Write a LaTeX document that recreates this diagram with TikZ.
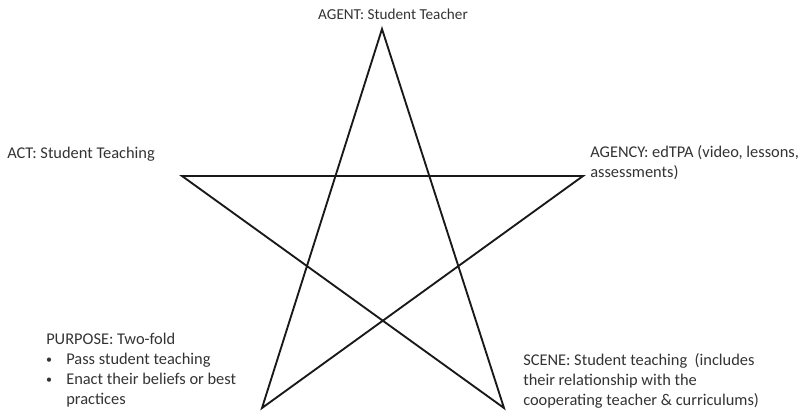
\documentclass[tikz,border=0pt]{standalone}
\usepackage{fontspec}
\setmainfont{Carlito}
\usepackage{tikz}
\usetikzlibrary{positioning}
\usetikzlibrary{calc}
\tikzset{mylabel/.style={inner sep=0pt, align=left, text=black!80, font=\fontsize{12.3}{15}\selectfont}}
\tikzset{mybullet/.style={inner sep=0pt, text=black!80, font=\fontsize{9}{15}\selectfont}}
\tikzset{mystar/.style={draw=black!90, line width=1.4pt, line join=miter}}

\begin{document}
\begin{tikzpicture}[x=0.75pt, y=-0.75pt]

\useasboundingbox (0,0) rectangle (799,412);

\coordinate (top) at (382, 29);
\coordinate (left) at (182, 176);
\coordinate (right) at (583, 176);
\coordinate (botl) at (262, 408);
\coordinate (botr) at (504, 408);

\draw[mystar] (top) -- (botl) -- (right) -- (left) -- (botr) -- cycle;

\node[mylabel, font=\fontsize{11.4}{15}\selectfont] (agent) at (393, 14) {AGENT: Student Teacher};
\node[mylabel, anchor=west] (act) at (7, 154) {ACT: Student Teaching};
\node[mylabel, anchor=north west] (agency) at (590, 145) {AGENCY: edTPA (video, lessons,\\assessments)};

\node[mylabel, anchor=north west] (purpose) at (46, 333) {PURPOSE: Two-fold};
\node[mybullet] (bul1) at (49, 361) {\textbullet};
\node[mylabel, anchor=north west] (pur1) at (66, 353) {Pass student teaching};
\node[mybullet] (bul2) at (49, 381) {\textbullet};
\node[mylabel, anchor=north west] (pur2) at (66, 373) {Enact their beliefs or best\\practices};

\node[mylabel, anchor=north west] (scene) at (523, 353) {SCENE: Student teaching\ \ (includes\\their relationship with the\\cooperating teacher \& curriculums)};

\end{tikzpicture}
\end{document}
